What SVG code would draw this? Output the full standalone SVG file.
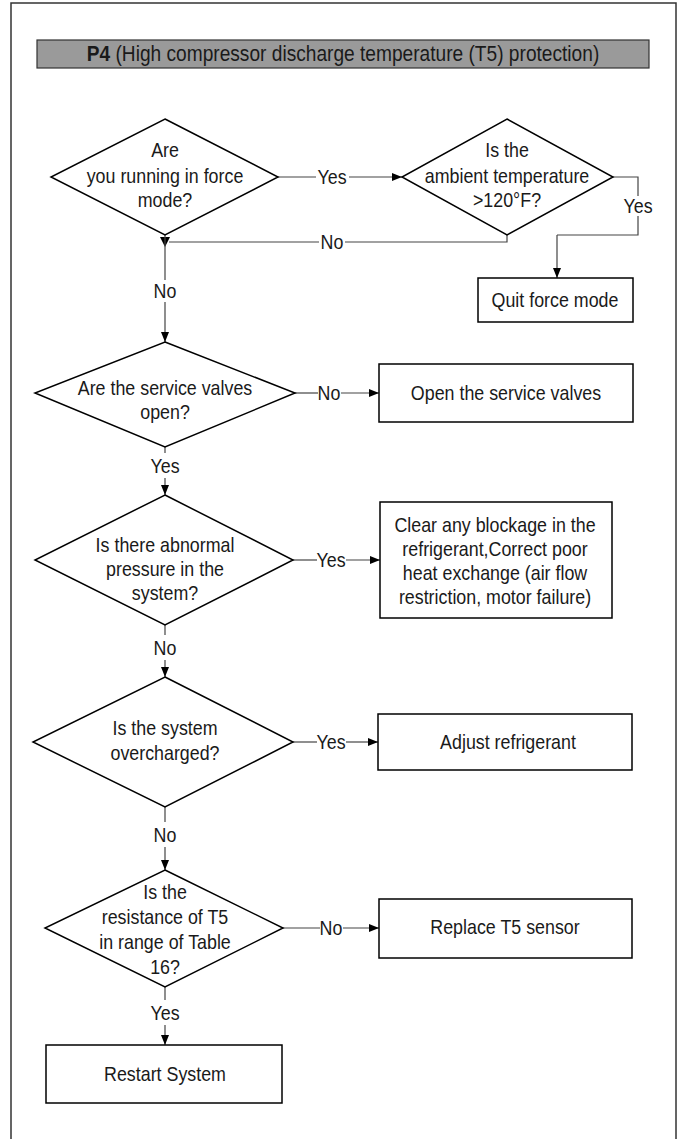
<svg xmlns="http://www.w3.org/2000/svg" width="679" height="1139" viewBox="0 0 679 1139">
<defs>
<marker id="ah" viewBox="0 0 10 8" refX="10" refY="4" markerWidth="10" markerHeight="8" markerUnits="userSpaceOnUse" orient="auto">
<path d="M0,0 L10,4 L0,8 Z" fill="#000"/>
</marker>
<style>
.t{font-family:"Liberation Sans",Arial,sans-serif;font-size:21px;fill:#1a1a1a;text-anchor:middle}
.shape{fill:#fff;stroke:#000;stroke-width:1.5}
.c{fill:none;stroke:#444;stroke-width:1.2}
.ca{fill:none;stroke:#444;stroke-width:1.2;marker-end:url(#ah)}
</style>
</defs>
<rect x="11" y="3" width="665" height="1145" fill="#fff" stroke="#333" stroke-width="1.5"/>
<g id="title">
<rect x="37" y="40" width="612" height="28" fill="#9a9a9a" stroke="#333" stroke-width="1.2"/>
<text class="t" transform="translate(343,0) scale(0.87,1)" y="61" style="font-size:22px"><tspan font-weight="bold">P4</tspan> (High compressor discharge temperature (T5) protection)</text>
</g>
<g id="connectors">
<path class="c" d="M278,177 H316"/>
<path class="ca" d="M349,177 H402"/>
<path class="c" d="M507,235 V242 H345"/>
<path class="c" d="M319,242 H169"/>
<polygon points="160,237 170,237 165,247" fill="#000"/>
<path class="c" d="M613,177 H638 V196"/>
<path class="c" d="M638,216 V235 H557"/>
<path class="ca" d="M557,235 V278"/>
<path class="c" d="M165,235 V280"/>
<path class="ca" d="M165,302 V342"/>
<path class="c" d="M295,393 H318"/>
<path class="ca" d="M341,393 H379"/>
<path class="c" d="M165,447 V453"/>
<path class="ca" d="M165,478 V495"/>
<path class="c" d="M293,560 H317"/>
<path class="ca" d="M346,560 H380"/>
<path class="c" d="M165,625 V635"/>
<path class="ca" d="M165,660 V677"/>
<path class="c" d="M293,742 H317"/>
<path class="ca" d="M346,742 H378"/>
<path class="c" d="M165,807 V822"/>
<path class="ca" d="M165,847 V870"/>
<path class="c" d="M283,928 H320"/>
<path class="ca" d="M343,928 H379"/>
<path class="c" d="M165,987 V1000"/>
<path class="ca" d="M165,1025 V1045"/>
<text class="t" transform="translate(332,0) scale(0.85,1)" y="184">Yes</text>
<text class="t" transform="translate(332,0) scale(0.85,1)" y="249">No</text>
<text class="t" transform="translate(638,0) scale(0.85,1)" y="213">Yes</text>
<text class="t" transform="translate(165,0) scale(0.85,1)" y="298">No</text>
<text class="t" transform="translate(329,0) scale(0.85,1)" y="400">No</text>
<text class="t" transform="translate(165,0) scale(0.85,1)" y="473">Yes</text>
<text class="t" transform="translate(331,0) scale(0.85,1)" y="567">Yes</text>
<text class="t" transform="translate(165,0) scale(0.85,1)" y="655">No</text>
<text class="t" transform="translate(331,0) scale(0.85,1)" y="749">Yes</text>
<text class="t" transform="translate(165,0) scale(0.85,1)" y="842">No</text>
<text class="t" transform="translate(331,0) scale(0.85,1)" y="935">No</text>
<text class="t" transform="translate(165,0) scale(0.85,1)" y="1020">Yes</text>
</g>
<g id="d1">
<polygon class="shape" points="165,119 278,177 165,235 51,177"/>
<text class="t" transform="translate(165,0) scale(0.85,1)" y="157">Are</text>
<text class="t" transform="translate(165,0) scale(0.85,1)" y="183">you running in force</text>
<text class="t" transform="translate(165,0) scale(0.85,1)" y="207">mode?</text>
</g>
<g id="d2">
<polygon class="shape" points="507,119 613,177 507,235 402,177"/>
<text class="t" transform="translate(507,0) scale(0.85,1)" y="157">Is the</text>
<text class="t" transform="translate(507,0) scale(0.85,1)" y="183">ambient temperature</text>
<text class="t" transform="translate(507,0) scale(0.85,1)" y="207">&gt;120°F?</text>
</g>
<g id="quit">
<rect class="shape" x="478" y="278" width="155" height="44"/>
<text class="t" transform="translate(555,0) scale(0.85,1)" y="307">Quit force mode</text>
</g>
<g id="d3">
<polygon class="shape" points="165,342 295,393 165,447 35,393"/>
<text class="t" transform="translate(165,0) scale(0.85,1)" y="395">Are the service valves</text>
<text class="t" transform="translate(165,0) scale(0.85,1)" y="419">open?</text>
</g>
<g id="open">
<rect class="shape" x="379" y="364" width="254" height="58"/>
<text class="t" transform="translate(506,0) scale(0.85,1)" y="400">Open the service valves</text>
</g>
<g id="d4">
<polygon class="shape" points="165,495 293,560 165,625 35,560"/>
<text class="t" transform="translate(165,0) scale(0.85,1)" y="552">Is there abnormal</text>
<text class="t" transform="translate(165,0) scale(0.85,1)" y="576">pressure in the</text>
<text class="t" transform="translate(165,0) scale(0.85,1)" y="600">system?</text>
</g>
<g id="clear">
<rect class="shape" x="380" y="502" width="232" height="116"/>
<text class="t" transform="translate(495,0) scale(0.85,1)" y="532">Clear any blockage in the</text>
<text class="t" transform="translate(495,0) scale(0.85,1)" y="556">refrigerant,Correct poor</text>
<text class="t" transform="translate(495,0) scale(0.85,1)" y="580">heat exchange (air flow</text>
<text class="t" transform="translate(495,0) scale(0.85,1)" y="604">restriction, motor failure)</text>
</g>
<g id="d5">
<polygon class="shape" points="165,677 293,742 165,807 33,742"/>
<text class="t" transform="translate(165,0) scale(0.85,1)" y="735">Is the system</text>
<text class="t" transform="translate(165,0) scale(0.85,1)" y="760">overcharged?</text>
</g>
<g id="adjust">
<rect class="shape" x="378" y="714" width="254" height="56"/>
<text class="t" transform="translate(508,0) scale(0.85,1)" y="749">Adjust refrigerant</text>
</g>
<g id="d6">
<polygon class="shape" points="165,870 283,928 165,987 45,928"/>
<text class="t" transform="translate(165,0) scale(0.85,1)" y="899">Is the</text>
<text class="t" transform="translate(165,0) scale(0.85,1)" y="924">resistance of T5</text>
<text class="t" transform="translate(165,0) scale(0.85,1)" y="949">in range of Table</text>
<text class="t" transform="translate(165,0) scale(0.85,1)" y="974">16?</text>
</g>
<g id="replace">
<rect class="shape" x="379" y="899" width="253" height="59"/>
<text class="t" transform="translate(505,0) scale(0.85,1)" y="934">Replace T5 sensor</text>
</g>
<g id="restart">
<rect class="shape" x="46" y="1045" width="236" height="58"/>
<text class="t" transform="translate(165,0) scale(0.85,1)" y="1081">Restart System</text>
</g>
</svg>
